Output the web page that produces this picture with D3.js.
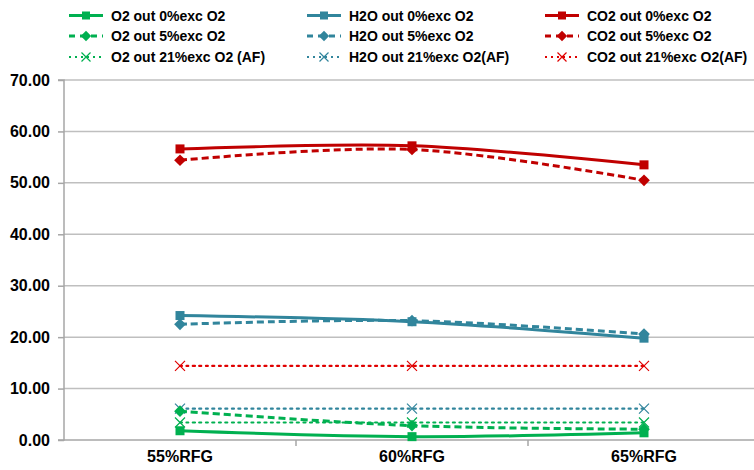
<!DOCTYPE html>
<html><head><meta charset="utf-8">
<script src="https://cdn.jsdelivr.net/npm/d3@7"></script>
<style>body{margin:0;background:#fff;} svg{display:block;}</style>
</head><body>
<svg id="c" width="754" height="470"></svg>
<script>
const categories = ["55%RFG", "60%RFG", "65%RFG"];
const yTicks = [0, 10, 20, 30, 40, 50, 60, 70];
const seriesNames = [
  "O2 out 0%exc O2", "H2O out 0%exc O2", "CO2 out 0%exc O2",
  "O2 out 5%exc O2", "H2O out 5%exc O2", "CO2 out 5%exc O2",
  "O2 out 21%exc O2 (AF)", "H2O out 21%exc O2(AF)", "CO2 out 21%exc O2(AF)"
];
const o2_0 = [1.8, 0.65, 1.4];
const h2o_0 = [24.2, 23.0, 19.8];
const co2_0 = [56.6, 57.2, 53.5];
const o2_5 = [5.6, 2.8, 2.1];
const h2o_5 = [22.5, 23.2, 20.6];
const co2_5 = [54.4, 56.5, 50.5];
const o2_21 = [3.4, 3.4, 3.4];
const h2o_21 = [6.1, 6.1, 6.1];
const co2_21 = [14.4, 14.4, 14.4];

const green = "#00B050", teal = "#31859C", red = "#C00000", red2 = "#E00000";
const series = [
  {name: seriesNames[0], v: o2_0, c: green, s: "solid", m: "square"},
  {name: seriesNames[1], v: h2o_0, c: teal, s: "solid", m: "square"},
  {name: seriesNames[2], v: co2_0, c: red, s: "solid", m: "square"},
  {name: seriesNames[3], v: o2_5, c: green, s: "dash", m: "diamond"},
  {name: seriesNames[4], v: h2o_5, c: teal, s: "dash", m: "diamond"},
  {name: seriesNames[5], v: co2_5, c: red, s: "dash", m: "diamond"},
  {name: seriesNames[6], v: o2_21, c: green, s: "dot", m: "x"},
  {name: seriesNames[7], v: h2o_21, c: teal, s: "dot", m: "x"},
  {name: seriesNames[8], v: co2_21, c: red2, s: "dot", m: "x"}
];

const svg = d3.select("#c");
const pL = 64, pR = 760, pT = 80, pB = 440;
const x = d3.scaleBand().domain(categories).range([pL, pR]);
const y = d3.scaleLinear().domain([0, 70]).range([pB, pT]);
const font = "Liberation Sans, Arial, sans-serif";

// gridlines
svg.append("g").selectAll("line").data(yTicks.filter(d => d > 0)).join("line")
  .attr("x1", pL).attr("x2", 754).attr("y1", d => y(d)).attr("y2", d => y(d))
  .attr("stroke", "#BFBFBF").attr("stroke-width", 1.5);

// y axis
const yAxis = svg.append("g").attr("transform", `translate(${pL},0)`)
  .call(d3.axisLeft(y).tickValues(yTicks).tickFormat(d3.format(".2f")).tickSize(6).tickPadding(8));
yAxis.select(".domain").attr("stroke", "#A6A6A6").attr("stroke-width", 1.5).attr("d", `M-6,${pT}H0V${pB}H-6`);
yAxis.selectAll(".tick line").attr("stroke", "#A6A6A6").attr("stroke-width", 1.5);
yAxis.selectAll("text").attr("font-family", font).attr("font-weight", "bold")
  .attr("font-size", 16).attr("fill", "#000");

// x axis
const xAxis = svg.append("g").attr("transform", `translate(0,${pB})`)
  .call(d3.axisBottom(x).tickSize(0).tickPadding(11));
xAxis.select(".domain").attr("stroke", "#A6A6A6").attr("stroke-width", 1.5).attr("d", `M${pL},0H754`);
xAxis.selectAll("text").attr("font-family", font).attr("font-weight", "bold")
  .attr("font-size", 16).attr("fill", "#000");
xAxis.selectAll(".sep").data(categories.slice(1)).join("line")
  .attr("x1", d => x(d)).attr("x2", d => x(d)).attr("y1", 0).attr("y2", 6)
  .attr("stroke", "#A6A6A6").attr("stroke-width", 1.5);

const dashFor = s => s === "dash" ? "7,4" : (s === "dot" ? "2,4.5" : null);
const widthFor = s => s === "dot" ? 2.2 : 3;

function marker(g, type, cx, cy, color, sz) {
  if (type === "square") {
    g.append("rect").attr("x", cx - sz/2).attr("y", cy - sz/2).attr("width", sz).attr("height", sz).attr("fill", color);
  } else if (type === "diamond") {
    const r = sz * 0.65;
    g.append("path").attr("d", `M${cx},${cy-r}L${cx+r},${cy}L${cx},${cy+r}L${cx-r},${cy}Z`).attr("fill", color);
  } else {
    const r = sz/2;
    g.append("path").attr("d", `M${cx-r},${cy-r}L${cx+r},${cy+r}M${cx-r},${cy+r}L${cx+r},${cy-r}`)
      .attr("stroke", color).attr("stroke-width", 1.2).attr("fill", "none");
  }
}

const line = d3.line().x((d, i) => x(categories[i]) + x.bandwidth()/2).y(d => y(d)).curve(d3.curveCardinal.tension(0));
const plot = svg.append("g");
const order = [6,7,8,0,3,1,4,2,5];
order.forEach(i => {
  const s = series[i];
  const g = plot.append("g");
  g.append("path").attr("d", line(s.v)).attr("fill", "none").attr("stroke", s.c)
    .attr("stroke-width", widthFor(s.s)).attr("stroke-dasharray", dashFor(s.s))
    .attr("stroke-linecap", s.s === "dot" ? "round" : "butt");
  s.v.forEach((v, j) => marker(g, s.m, x(categories[j]) + x.bandwidth()/2, y(v), s.c, s.m === "x" ? 10 : 9));
});

// legend
const legCols = [69, 307, 545];
const legRows = [15.5, 36, 57];
const leg = svg.append("g");
series.forEach((s, i) => {
  const col = i % 3, row = Math.floor(i / 3);
  const lx = legCols[col], ly = legRows[row];
  const g = leg.append("g");
  g.append("line").attr("x1", lx).attr("x2", lx + 34).attr("y1", ly).attr("y2", ly)
    .attr("stroke", s.c).attr("stroke-width", widthFor(s.s)).attr("stroke-dasharray", s.s === "dash" ? "6,5" : (s.s === "dot" ? "2,4" : null));
  marker(g, s.m, lx + 17, ly, s.c, s.m === "x" ? 9 : 8);
  g.append("text").attr("x", lx + 42).attr("y", ly + 5).text(s.name)
    .attr("font-family", font).attr("font-weight", "bold").attr("font-size", 14).attr("fill", "#000");
});
</script>
</body></html>
